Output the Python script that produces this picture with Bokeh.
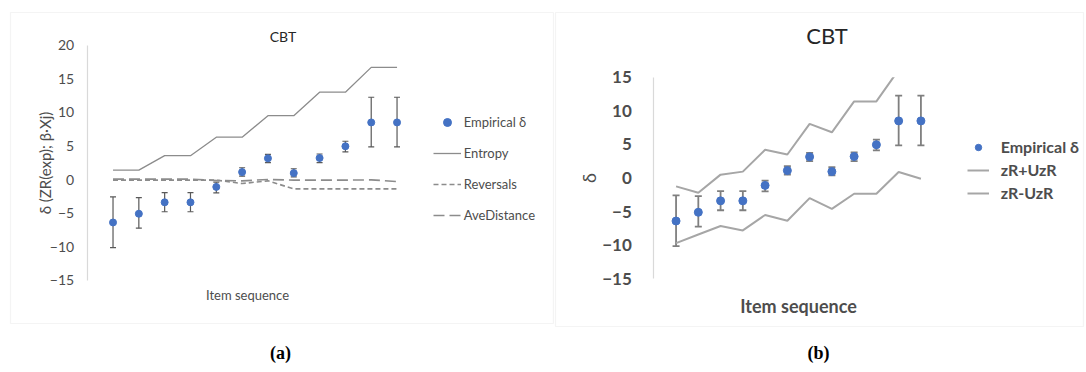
from bokeh.plotting import figure
from bokeh.models import (Range1d, FixedTicker, ColumnDataSource, Whisker, TeeHead,
                          Legend, LegendItem, Label, BoxAnnotation)
from bokeh.layouts import row
from bokeh.embed import file_html
from bokeh.resources import INLINE

# ---------------- data ----------------
items = list(range(1, 13))
empirical_delta = [-6.4, -5.1, -3.4, -3.4, -1.1, 1.1, 3.15, 0.95, 3.2, 4.95, 8.5, 8.5]
delta_upper = [-2.6, -2.7, -1.95, -1.95, -0.4, 1.75, 3.75, 1.6, 3.8, 5.7, 12.25, 12.25]
delta_lower = [-10.15, -7.25, -4.8, -4.8, -2.0, 0.5, 2.5, 0.4, 2.5, 4.1, 4.85, 4.85]
entropy = [1.4, 1.4, 3.55, 3.55, 6.3, 6.3, 9.5, 9.5, 13.0, 13.0, 16.7, 16.7]
reversals = [-0.1, -0.1, -0.1, -0.1, -0.1, -0.6, -0.2, -1.4, -1.4, -1.4, -1.4, -1.4]
ave_distance = [0.05, 0.05, 0.05, 0.05, -0.15, -0.2, 0.0, -0.1, -0.1, -0.1, -0.05, -0.3]
zr_plus_uzr = [-1.25, -2.2, 0.5, 0.95, 4.2, 3.5, 8.05, 6.8, 11.4, 11.4, 16.1, 16.1]
zr_minus_uzr = [-9.7, -8.4, -7.15, -7.8, -5.5, -6.35, -3.0, -4.6, -2.35, -2.35, 0.9, -0.1]
y_ticks_a = [-15, -10, -5, 0, 5, 10, 15, 20]
y_ticks_b = [-15, -10, -5, 0, 5, 10, 15]
x_axis_a = (0, 12.39)
x_axis_b = (0, 13.03)

FONT = "Lato"
TXT = "#4d4d4d"
BLUE = "#4472C4"
H = 372          # canvas height (Bokeh's page template has no body margin)


class Panel:
    """Figure whose frame is its whole canvas; mapping page pixels <-> data."""

    def __init__(self, page_left, width, x0_px, sx, y0_px, sy):
        self.page_left, self.width = page_left, width
        self.x0_px, self.sx, self.y0_px, self.sy = x0_px, sx, y0_px, sy
        xr = ((page_left - x0_px) / sx, (page_left + width - x0_px) / sx)
        yr = ((y0_px - H) / sy, y0_px / sy)
        p = figure(width=width, height=H, output_backend="svg", toolbar_location=None,
                   min_border=0, x_range=Range1d(*xr), y_range=Range1d(*yr))
        p.xgrid.visible = False
        p.ygrid.visible = False
        p.outline_line_color = None
        p.background_fill_color = "white"
        p.border_fill_color = "white"
        self.p = p

    def x(self, px):
        return (px - self.x0_px) / self.sx

    def y(self, py):
        return (self.y0_px - py) / self.sy

    def legend_loc(self, page_x, page_bottom):
        return (page_x - self.page_left, H - page_bottom)


def style_axes(p, ticks, xbounds, tick_size, tick_bold, tick_standoff, ylabel,
               ylabel_size, ylabel_standoff, xlabel_size, xlabel_bold, xlabel_standoff):
    ya = p.yaxis[0]
    ya.fixed_location = 0
    ya.bounds = (ticks[0], ticks[-1])
    ya.ticker = FixedTicker(ticks=ticks)
    ya.major_tick_out = 0
    ya.major_tick_in = 0
    ya.minor_tick_out = 0
    ya.minor_tick_in = 0
    ya.axis_line_color = "#d9d9d9"
    ya.axis_line_width = 1.2
    ya.major_label_text_font = FONT
    ya.major_label_text_font_size = tick_size
    ya.major_label_text_font_style = "bold" if tick_bold else "normal"
    ya.major_label_text_color = TXT
    ya.major_label_standoff = tick_standoff
    ya.axis_label = ylabel
    ya.axis_label_text_font = FONT
    ya.axis_label_text_font_size = ylabel_size
    ya.axis_label_text_font_style = "normal"
    ya.axis_label_text_color = TXT
    ya.axis_label_standoff = ylabel_standoff

    xa = p.xaxis[0]
    xa.fixed_location = ticks[0]
    xa.bounds = xbounds
    xa.ticker = FixedTicker(ticks=[])
    xa.major_tick_out = 0
    xa.major_tick_in = 0
    xa.minor_tick_out = 0
    xa.minor_tick_in = 0
    xa.axis_line_color = None
    xa.major_label_text_font_size = "0px"
    xa.major_label_standoff = 0
    xa.axis_label = "Item sequence"
    xa.axis_label_text_font = FONT
    xa.axis_label_text_font_size = xlabel_size
    xa.axis_label_text_font_style = "bold" if xlabel_bold else "normal"
    xa.axis_label_text_color = TXT
    xa.axis_label_standoff = xlabel_standoff


# ---------------- panel (a) ----------------
A = Panel(0, 554, 86.7, 25.82, 179, 6.714)
pa = A.p
style_axes(pa, y_ticks_a, x_axis_a, "14px", False, 13, "δ (ZR(exp); β·Xj)", "15px", -7,
           "13px", False, 6)

pa.add_layout(BoxAnnotation(left=A.x(10), right=A.x(553), top=A.y(12), bottom=A.y(323),
                            fill_color=None, fill_alpha=0, line_color="#d9d9d9",
                            line_width=1.2, level="underlay"))

src_a = ColumnDataSource(dict(x=items, upper=delta_upper, lower=delta_lower))
pa.add_layout(Whisker(base="x", upper="upper", lower="lower", source=src_a,
                      line_color="#595959", line_width=1.2,
                      upper_head=TeeHead(size=6, line_color="#595959", line_width=1.2),
                      lower_head=TeeHead(size=6, line_color="#595959", line_width=1.2)))
r_ent = pa.line(items, entropy, line_color="#8c8c8c", line_width=1.3)
r_rev = pa.line(items, reversals, line_color="#8c8c8c", line_width=1.6, line_dash="5 3")
r_ave = pa.line(items, ave_distance, line_color="#8c8c8c", line_width=1.6, line_dash="11 5")
r_dot = pa.scatter(items, empirical_delta, size=7, color=BLUE)

leg_a = Legend(items=[LegendItem(label="Empirical δ", renderers=[r_dot]),
                      LegendItem(label="Entropy", renderers=[r_ent]),
                      LegendItem(label="Reversals", renderers=[r_rev]),
                      LegendItem(label="AveDistance", renderers=[r_ave])],
               location=A.legend_loc(432.7, 224.7), glyph_width=28, glyph_height=20,
               label_height=20, spacing=11, padding=0, margin=0, label_standoff=3,
               border_line_color=None, background_fill_alpha=0,
               label_text_font=FONT, label_text_font_size="13px", label_text_color=TXT)
pa.add_layout(leg_a)

pa.add_layout(Label(x=A.x(282.5), y=A.y(36), text="CBT", text_align="center",
                    text_baseline="middle", text_font=FONT, text_font_size="14px",
                    text_color="#262626"))
pa.add_layout(Label(x=A.x(280), y=A.y(352), text="(a)", text_align="center",
                    text_baseline="middle", text_font="Liberation Serif",
                    text_font_size="18px", text_font_style="bold", text_color="black"))

# ---------------- panel (b) ----------------
B = Panel(554, 532, 653.3, 22.26, 177.5, 6.72)
pb = B.p
style_axes(pb, y_ticks_b, x_axis_b, "17px", True, 22, "δ", "18px", -1, "18px", True, 16)

pb.add_layout(BoxAnnotation(left=B.x(555), right=B.x(1083), top=B.y(12), bottom=B.y(326),
                            fill_color=None, fill_alpha=0, line_color="#d9d9d9",
                            line_width=1.2, level="underlay"))

r_up = pb.line(items, zr_plus_uzr, line_color="#a6a6a6", line_width=2)
r_lo = pb.line(items, zr_minus_uzr, line_color="#a6a6a6", line_width=2)
src_b = ColumnDataSource(dict(x=items, upper=delta_upper, lower=delta_lower))
pb.add_layout(Whisker(base="x", upper="upper", lower="lower", source=src_b,
                      line_color="#7f7f7f", line_width=1.8,
                      upper_head=TeeHead(size=7, line_color="#7f7f7f", line_width=1.8),
                      lower_head=TeeHead(size=7, line_color="#7f7f7f", line_width=1.8)))
r_dot_b = pb.scatter(items, empirical_delta, size=8, color=BLUE)

# the chart's plot area ends at the top tick (15): hide the part of the series above it
pb.add_layout(BoxAnnotation(left=x_axis_b[0] + 0.2, right=x_axis_b[1], bottom=y_ticks_b[-1],
                            top=y_ticks_b[-1] + 3, fill_color="white", fill_alpha=1,
                            line_color=None, level="annotation"))

leg_b = Legend(items=[LegendItem(label="Empirical δ", renderers=[r_dot_b]),
                      LegendItem(label="zR+UzR", renderers=[r_up]),
                      LegendItem(label="zR-UzR", renderers=[r_lo])],
               location=B.legend_loc(966.7, 202), glyph_width=22, glyph_height=16,
               label_height=16, spacing=4, padding=0, margin=0, label_standoff=12,
               border_line_color=None, background_fill_alpha=0,
               label_text_font=FONT, label_text_font_size="16px",
               label_text_font_style="bold", label_text_color=TXT)
pb.add_layout(leg_b)

pb.add_layout(Label(x=B.x(826.5), y=B.y(34.5), text="CBT", text_align="center",
                    text_baseline="middle", text_font=FONT, text_font_size="22px",
                    text_color="#262626"))
pb.add_layout(Label(x=B.x(818), y=B.y(352), text="(b)", text_align="center",
                    text_baseline="middle", text_font="Liberation Serif",
                    text_font_size="18px", text_font_style="bold", text_color="black"))

layout = row(pa, pb)
open("out.html", "w").write(file_html(layout, INLINE))
